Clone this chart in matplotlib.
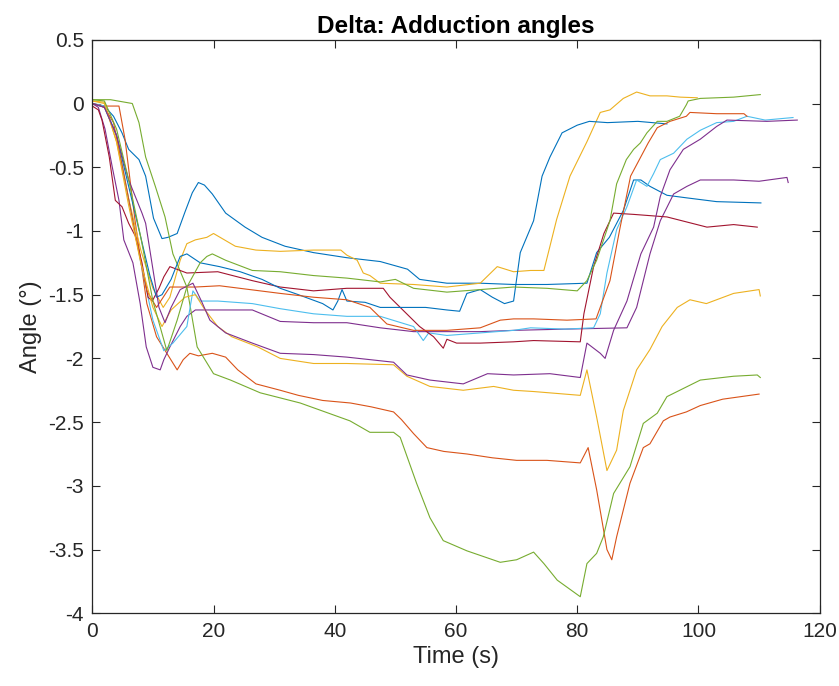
import matplotlib
matplotlib.use("Agg")
import matplotlib.pyplot as plt

# MATLAB default colour order
c_blue = "#0072BD"
c_orange = "#D95319"
c_yellow = "#EDB120"
c_purple = "#7E2F8E"
c_green = "#77AC30"
c_lblue = "#4DBEEE"
c_dred = "#A2142F"

# ---- trial traces: time (s) and adduction angle (deg) ----
blue1_t = [0, 2, 3.5, 4.9, 6, 7.7, 8.8, 10.1, 11.5, 12.5, 14, 15.3, 16.5, 17.5, 18.5, 19.8, 22, 25.2, 28,
           31.8, 36.5, 42, 47.5, 52, 54, 58.5, 64, 69.5, 75, 81.6, 83.2, 85.3, 87.6, 89.3, 90.5, 92, 94.8,
           98, 103, 110.3]
blue1_v = [0, -0.02, -0.1, -0.23, -0.36, -0.44, -0.57, -0.9, -1.06, -1.05, -1.02, -0.85, -0.7, -0.62, -0.64,
           -0.71, -0.86, -0.97, -1.05, -1.12, -1.17, -1.21, -1.24, -1.3, -1.38, -1.41, -1.41, -1.42, -1.42,
           -1.41, -1.17, -1.05, -0.84, -0.6, -0.6, -0.65, -0.72, -0.74, -0.77, -0.78]

orange1_t = [0, 2, 4.4, 5.4, 7, 9, 10.6, 12.3, 14, 15, 16.1, 17.5, 19.8, 22, 24, 27, 31, 34, 38, 42.6, 46,
             49.7, 51, 53, 55.2, 58, 61.8, 66, 70, 75, 80.5, 81.8, 83.2, 84.9, 85.7, 86.5, 88.7, 90.9, 92,
             94.2, 95.3, 98, 100.3, 104, 107, 110]
orange1_v = [0, -0.02, -0.02, -0.28, -0.9, -1.57, -1.83, -1.96, -2.09, -2.01, -1.96, -1.98, -1.96, -1.99,
             -2.09, -2.2, -2.25, -2.29, -2.33, -2.35, -2.38, -2.42, -2.48, -2.59, -2.7, -2.73, -2.75, -2.78,
             -2.8, -2.8, -2.82, -2.7, -3.03, -3.5, -3.58, -3.4, -2.98, -2.7, -2.67, -2.49, -2.46, -2.42,
             -2.37, -2.32, -2.3, -2.28]

yellow1_t = [0, 2, 4, 6, 8, 10, 11.7, 12.8, 14.5, 15.6, 17, 18.9, 20, 23.6, 27, 31, 36.5, 41, 42, 43.7,
             44.7, 45.8, 47.5, 53, 58.5, 64, 66.8, 69.5, 72.3, 74.5, 75.5, 76.6, 78.8, 81.6, 83.8, 85.4,
             87.6, 89.8, 92, 94.8, 97, 99.8]
yellow1_v = [0.02, 0.01, -0.3, -0.75, -1.15, -1.45, -1.6, -1.52, -1.23, -1.1, -1.07, -1.05, -1.02, -1.12,
             -1.15, -1.16, -1.15, -1.15, -1.19, -1.23, -1.33, -1.35, -1.41, -1.42, -1.44, -1.41, -1.28,
             -1.32, -1.31, -1.31, -1.12, -0.91, -0.57, -0.3, -0.07, -0.05, 0.04, 0.09, 0.06, 0.06, 0.05,
             0.045]

purple1_t = [0, 1, 2.1, 3.3, 4.4, 5.2, 6.7, 7.9, 8.9, 10, 11.2, 11.8, 12.8, 14.5, 15.6, 17, 20.7, 26.4, 31,
             36.5, 40, 42, 47.5, 53, 58.5, 64, 69.5, 78.3, 88.2, 89.8, 92, 93.7, 95.9, 98.1, 100.3, 105.8,
             110, 114.6, 114.8]
purple1_v = [0, -0.03, -0.2, -0.5, -0.76, -1.07, -1.25, -1.57, -1.91, -2.07, -2.09, -2.01, -1.91, -1.75,
             -1.67, -1.62, -1.62, -1.62, -1.71, -1.72, -1.72, -1.72, -1.76, -1.79, -1.79, -1.79, -1.78,
             -1.77, -1.76, -1.6, -1.18, -0.92, -0.71, -0.65, -0.6, -0.6, -0.61, -0.58, -0.62]

green1_t = [0, 3, 6.6, 7.7, 8.8, 10.4, 12, 13.3, 15.6, 17.3, 20, 22.8, 27.7, 34.3, 42.5, 45.8, 49.7, 50.8,
            53.5, 55.7, 57.9, 61.8, 67.3, 70, 72.8, 74.5, 76.7, 80.5, 81.6, 83.2, 84.3, 86, 88.7, 90.9,
            93.2, 94.8, 100.3, 105.8, 109.7, 110.2]
green1_v = [0.03, 0.03, 0.0, -0.15, -0.42, -0.65, -0.89, -1.18, -1.44, -1.91, -2.12, -2.17, -2.27, -2.35,
            -2.49, -2.58, -2.58, -2.62, -2.98, -3.25, -3.43, -3.51, -3.6, -3.58, -3.52, -3.61, -3.74, -3.87,
            -3.61, -3.53, -3.4, -3.06, -2.85, -2.51, -2.43, -2.3, -2.17, -2.14, -2.13, -2.15]

lblue_t = [0, 2, 4, 6, 8, 10, 11.8, 13.3, 15.6, 16.6, 17.8, 20.7, 26.4, 31, 36.5, 42, 47.5, 53, 54.6, 55.5,
           58.5, 64, 69.5, 72.3, 78, 82.7, 83.8, 84.9, 86.5, 88.2, 89.8, 91.5, 92.6, 93.7, 95.9, 98.1,
           100.3, 103, 105.8, 108, 111, 115.6]
lblue_v = [0, -0.02, -0.25, -0.75, -1.25, -1.7, -1.94, -1.88, -1.75, -1.47, -1.55, -1.55, -1.57, -1.61,
           -1.65, -1.67, -1.67, -1.75, -1.86, -1.8, -1.82, -1.8, -1.78, -1.76, -1.77, -1.76, -1.65, -1.33,
           -0.99, -0.81, -0.6, -0.65, -0.55, -0.44, -0.39, -0.28, -0.21, -0.15, -0.14, -0.1, -0.13, -0.11]

dred_t = [0, 1, 1.6, 2.8, 3.8, 4.9, 6, 7.1, 8.2, 9.2, 9.9, 11, 11.8, 12.8, 15.6, 20.7, 26.4, 31, 36.5, 42,
          48, 49.1, 50.8, 54, 56.3, 57.9, 58.5, 60.1, 64, 69.5, 72.8, 80.5, 81.1, 82.7, 84.4, 86, 89.3,
          94.8, 101.4, 105.8, 109.7]
dred_v = [-0.02, -0.05, -0.13, -0.42, -0.76, -0.81, -0.94, -1.04, -1.25, -1.52, -1.55, -1.45, -1.36, -1.28,
          -1.33, -1.32, -1.39, -1.44, -1.47, -1.45, -1.45, -1.52, -1.6, -1.75, -1.83, -1.92, -1.85, -1.88,
          -1.88, -1.87, -1.86, -1.87, -1.65, -1.28, -1.02, -0.86, -0.87, -0.89, -0.97, -0.95, -0.97]

blue2_t = [0, 2, 4, 6, 8, 9.5, 10.6, 11.5, 13, 14.5, 15.6, 17.8, 21, 24.4, 28, 31, 34, 38, 39.7, 40.5,
           41.2, 42, 45, 47.5, 50, 53, 55, 58.5, 60.6, 61.8, 64, 66, 68, 69.5, 70.6, 72.8, 74.2, 75.5,
           77.5, 80, 82, 85, 90, 94.8]
blue2_v = [0, -0.03, -0.25, -0.65, -1.05, -1.35, -1.52, -1.5, -1.38, -1.2, -1.18, -1.25, -1.28, -1.32,
           -1.38, -1.45, -1.5, -1.57, -1.62, -1.55, -1.46, -1.55, -1.56, -1.6, -1.6, -1.6, -1.6, -1.62,
           -1.63, -1.49, -1.46, -1.52, -1.57, -1.55, -1.17, -0.92, -0.57, -0.42, -0.23, -0.17, -0.14,
           -0.15, -0.14, -0.16]

orange2_t = [0, 2, 3.5, 5, 7, 9, 10.6, 12.8, 15, 17, 21, 26, 31, 36.5, 42, 45.8, 48.6, 53, 58.5, 64, 67.3,
             69.5, 72.8, 78.3, 83.1, 85.4, 87, 88.8, 91.7, 93.2, 95.3, 98, 98.6, 103, 107.5, 108]
orange2_v = [0, -0.03, -0.15, -0.5, -1.0, -1.47, -1.6, -1.44, -1.44, -1.44, -1.43, -1.46, -1.49, -1.52,
             -1.54, -1.6, -1.73, -1.78, -1.78, -1.76, -1.70, -1.69, -1.69, -1.70, -1.69, -1.39, -0.99,
             -0.57, -0.31, -0.19, -0.14, -0.1, -0.07, -0.08, -0.08, -0.1]

yellow2_t = [0, 2, 4, 6, 8, 10, 11.5, 13, 15.3, 17, 18.6, 20.7, 23, 27.3, 31, 36.5, 42, 49.7, 51.9, 55.7,
             61.2, 66.2, 69.5, 72.8, 80.5, 81.6, 83.2, 84.9, 86.5, 87.6, 89.8, 92, 94, 96.5, 98.6, 101.3,
             105.8, 110, 110.2]
yellow2_v = [0.02, 0.0, -0.3, -0.8, -1.25, -1.6, -1.75, -1.62, -1.52, -1.5, -1.62, -1.75, -1.83, -1.91,
             -2.0, -2.04, -2.04, -2.05, -2.14, -2.22, -2.25, -2.22, -2.25, -2.26, -2.29, -2.09, -2.46,
             -2.88, -2.72, -2.41, -2.09, -1.93, -1.75, -1.6, -1.54, -1.57, -1.49, -1.46, -1.51]

purple2_t = [0, 2, 4, 6, 8.2, 8.8, 10, 11, 12, 13, 14.5, 16.6, 18, 19.4, 22, 26.4, 31, 36.5, 42, 49.7, 51.9,
             55.7, 61.2, 65.2, 69.5, 75.5, 80.5, 81.6, 83.8, 84.6, 86, 88.2, 90.5, 92.6, 93.7, 95.3, 97.5,
             100.3, 103, 104.7, 111.3, 116.3]
purple2_v = [0, -0.03, -0.25, -0.6, -0.86, -0.94, -1.3, -1.6, -1.72, -1.6, -1.46, -1.41, -1.55, -1.7, -1.8,
             -1.88, -1.96, -1.97, -1.99, -2.03, -2.13, -2.17, -2.2, -2.12, -2.13, -2.12, -2.15, -1.88,
             -1.96, -2.0, -1.78, -1.55, -1.18, -0.97, -0.73, -0.52, -0.36, -0.28, -0.18, -0.13, -0.14,
             -0.13]

green2_t = [0, 2, 4, 6, 8, 10, 12.3, 14, 15.6, 17.8, 18.9, 19.8, 22, 26.4, 31, 36.5, 42, 47.5, 50, 53, 58.5,
            64, 69.5, 75, 80, 81.6, 83.2, 85.4, 86.5, 88.1, 89.3, 90.4, 91.5, 93.2, 94.8, 96.9, 98, 98.3,
            100.3, 105.8, 110.2]
green2_v = [0.03, 0.02, -0.2, -0.6, -1.05, -1.55, -1.94, -1.7, -1.44, -1.25, -1.2, -1.18, -1.23, -1.31,
            -1.32, -1.35, -1.37, -1.4, -1.38, -1.45, -1.48, -1.46, -1.44, -1.45, -1.47, -1.39, -1.23, -0.92,
            -0.63, -0.44, -0.36, -0.31, -0.23, -0.14, -0.14, -0.1, -0.01, 0.02, 0.04, 0.05, 0.07]

traces = [
    (blue1_t, blue1_v, c_blue),
    (orange1_t, orange1_v, c_orange),
    (yellow1_t, yellow1_v, c_yellow),
    (purple1_t, purple1_v, c_purple),
    (green1_t, green1_v, c_green),
    (lblue_t, lblue_v, c_lblue),
    (dred_t, dred_v, c_dred),
    (blue2_t, blue2_v, c_blue),
    (orange2_t, orange2_v, c_orange),
    (yellow2_t, yellow2_v, c_yellow),
    (purple2_t, purple2_v, c_purple),
    (green2_t, green2_v, c_green),
]

x_ticks = [0, 20, 40, 60, 80, 100, 120]
y_ticks = [-4, -3.5, -3, -2.5, -2, -1.5, -1, -0.5, 0, 0.5]
y_tick_labels = ["-4", "-3.5", "-3", "-2.5", "-2", "-1.5", "-1", "-0.5", "0", "0.5"]

plt.rcParams["font.family"] = ["Liberation Sans", "DejaVu Sans"]
axis_col = "#262626"

fig = plt.figure(figsize=(8.39, 6.86), dpi=100)
ax = fig.add_axes([0.110, 0.106, 0.867, 0.836])

for t, v, col in traces:
    ax.plot(t, v, color=col, lw=0.8)

ax.set_xlim(0, 120)
ax.set_ylim(-4, 0.5)
ax.set_xticks(x_ticks)
ax.set_yticks(y_ticks)
ax.set_yticklabels(y_tick_labels)
ax.tick_params(direction="in", top=True, right=True, length=6, width=0.8,
               color=axis_col, labelcolor=axis_col, labelsize=15, pad=6)
for s in ax.spines.values():
    s.set_color(axis_col)
    s.set_linewidth(0.9)

ax.set_xlabel("Time (s)", fontsize=17, color=axis_col, labelpad=4)
ax.set_ylabel("Angle (°)", fontsize=17, color=axis_col, labelpad=4)
ax.set_title("Delta: Adduction angles", fontsize=17.5, fontweight="bold", color="black", pad=5)

fig.savefig("out.png", dpi=100)
